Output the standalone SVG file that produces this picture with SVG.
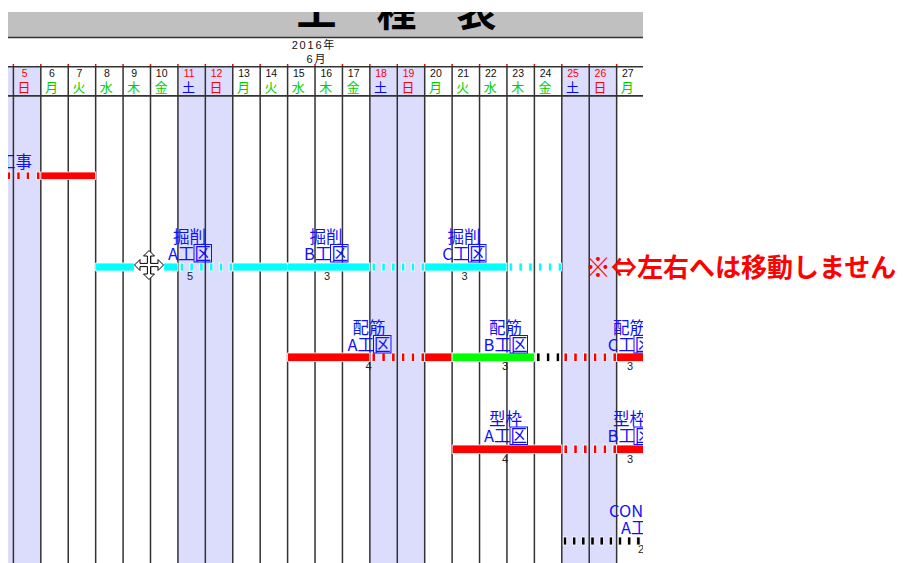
<svg xmlns="http://www.w3.org/2000/svg" width="903" height="563" viewBox="0 0 903 563">
<style>
.bar{stroke:#fff;stroke-width:0.8}
.r{fill:#ff0000}.c{fill:#00ffff}.g{fill:#00ff00}.k{fill:#000}
.lbl{font-family:"Noto Sans CJK JP","Liberation Sans",sans-serif;font-size:16.5px;fill:#1010ff;text-anchor:middle}
.box{fill:none;stroke:#1010ff;stroke-width:1}
.num{font-family:"Liberation Sans",sans-serif;font-size:11px;fill:#222;text-anchor:middle}
.vl{stroke:#333;stroke-width:1.5;fill:none}
.hl{stroke:#333;stroke-width:1.6}
.tick{stroke:#ff0000;stroke-width:1.5}
.dn{font-family:"Liberation Sans",sans-serif;font-size:10.5px;text-anchor:middle}
.wd{font-family:"Noto Sans CJK JP",sans-serif;font-size:13px;text-anchor:middle}
.blk{fill:#111}.red{fill:#ff0000}.grn{fill:#00d000}.blu{fill:#0000ff}
.shade{fill:#dcdcfc}
</style>
<defs>
<clipPath id="chart"><rect x="8" y="0" width="635" height="563"/></clipPath>
<clipPath id="titleclip"><rect x="8" y="12" width="635" height="25"/></clipPath>
</defs>
<rect width="903" height="563" fill="#fff"/>
<g id="chart-area" clip-path="url(#chart)">
  <g id="header">
    <rect x="8" y="12" width="635" height="25" fill="#c0c0c0"/>
    <text clip-path="url(#titleclip)" x="396.5" y="25.5" font-family="'Noto Sans CJK JP',sans-serif" font-size="40" font-weight="bold" text-anchor="middle" fill="#000">工　程　表</text>
    <line class="hl" x1="8" y1="37.5" x2="643" y2="37.5"/>
    <text x="291.7" y="48.5" font-family="'Liberation Sans','Noto Sans CJK JP',sans-serif" font-size="11" letter-spacing="1.8" fill="#111">2016年</text>
    <text x="306.5" y="62.5" font-family="'Liberation Sans','Noto Sans CJK JP',sans-serif" font-size="11" letter-spacing="1.8" fill="#111">6月</text>
  </g>
  <g id="weekend-shading">
    <rect class="shade" x="8" y="66.7" width="32.82" height="497"/>
    <rect class="shade" x="177.92" y="66.7" width="54.84" height="497"/>
    <rect class="shade" x="369.86" y="66.7" width="54.84" height="497"/>
    <rect class="shade" x="561.8" y="66.7" width="54.84" height="497"/>
  </g>
  <g id="grid">
    <line class="hl" x1="8" y1="66.7" x2="643" y2="66.7"/>
    <line class="hl" x1="8" y1="95.9" x2="643" y2="95.9"/>
    <path class="vl" d="M13.4 66.7V563M40.82 66.7V563M68.24 66.7V563M95.66 66.7V563M123.08 66.7V563M150.5 66.7V563M177.92 66.7V563M205.34 66.7V563M232.76 66.7V563M260.18 66.7V563M287.6 66.7V563M315.02 66.7V563M342.44 66.7V563M369.86 66.7V563M397.28 66.7V563M424.7 66.7V563M452.12 66.7V563M479.54 66.7V563M506.96 66.7V563M534.38 66.7V563M561.8 66.7V563M589.22 66.7V563M616.64 66.7V563"/>
    <path class="tick" d="M13.4 64V66M40.82 64V66M68.24 64V66M95.66 64V66M123.08 64V66M150.5 64V66M177.92 64V66M205.34 64V66M232.76 64V66M260.18 64V66M287.6 64V66M315.02 64V66M342.44 64V66M369.86 64V66M397.28 64V66M424.7 64V66M452.12 64V66M479.54 64V66M506.96 64V66M534.38 64V66M561.8 64V66M589.22 64V66M616.64 64V66"/>
  </g>
  <g id="day-numbers" class="dn">
    <text class="red" x="24.6" y="76.5">5</text>
    <text class="blk" x="52" y="76.5">6</text>
    <text class="blk" x="79.45" y="76.5">7</text>
    <text class="blk" x="106.87" y="76.5">8</text>
    <text class="blk" x="134.29" y="76.5">9</text>
    <text class="blk" x="161.71" y="76.5">10</text>
    <text class="red" x="189.13" y="76.5">11</text>
    <text class="red" x="216.55" y="76.5">12</text>
    <text class="blk" x="243.97" y="76.5">13</text>
    <text class="blk" x="271.39" y="76.5">14</text>
    <text class="blk" x="298.81" y="76.5">15</text>
    <text class="blk" x="326.23" y="76.5">16</text>
    <text class="blk" x="353.65" y="76.5">17</text>
    <text class="red" x="381.07" y="76.5">18</text>
    <text class="red" x="408.49" y="76.5">19</text>
    <text class="blk" x="435.91" y="76.5">20</text>
    <text class="blk" x="463.33" y="76.5">21</text>
    <text class="blk" x="490.75" y="76.5">22</text>
    <text class="blk" x="518.17" y="76.5">23</text>
    <text class="blk" x="545.59" y="76.5">24</text>
    <text class="red" x="573.01" y="76.5">25</text>
    <text class="red" x="600.43" y="76.5">26</text>
    <text class="blk" x="627.85" y="76.5">27</text>
  </g>
  <g id="weekdays" class="wd">
    <text class="red" x="24.1" y="92">日</text>
    <text class="grn" x="51.5" y="92">月</text>
    <text class="grn" x="78.95" y="92">火</text>
    <text class="grn" x="106.37" y="92">水</text>
    <text class="grn" x="133.79" y="92">木</text>
    <text class="grn" x="161.21" y="92">金</text>
    <text class="blu" x="188.63" y="92">土</text>
    <text class="red" x="216.05" y="92">日</text>
    <text class="grn" x="243.47" y="92">月</text>
    <text class="grn" x="270.89" y="92">火</text>
    <text class="grn" x="298.31" y="92">水</text>
    <text class="grn" x="325.73" y="92">木</text>
    <text class="grn" x="353.15" y="92">金</text>
    <text class="blu" x="380.57" y="92">土</text>
    <text class="red" x="407.99" y="92">日</text>
    <text class="grn" x="435.41" y="92">月</text>
    <text class="grn" x="462.83" y="92">火</text>
    <text class="grn" x="490.25" y="92">水</text>
    <text class="grn" x="517.67" y="92">木</text>
    <text class="grn" x="545.09" y="92">金</text>
    <text class="blu" x="572.51" y="92">土</text>
    <text class="red" x="599.93" y="92">日</text>
    <text class="grn" x="627.35" y="92">月</text>
  </g>

  <g id="task-koji">
    <text class="lbl" x="15.5" y="168">工事</text>
    <rect class="bar r" x="7.3" y="172" width="3.3" height="7.5"/>
    <rect class="bar r" x="16.8" y="172" width="3.3" height="7.5"/>
    <rect class="bar r" x="26.2" y="172" width="3.3" height="7.5"/>
    <rect class="bar r" x="36.6" y="172" width="3.3" height="7.5"/>
    <rect class="bar r" x="40.82" y="172" width="54.84" height="7.5"/>
  </g>

  <g id="task-kussaku-a">
    <text class="num" x="190" y="279.5">5</text>
    <rect class="bar c" x="95.66" y="263" width="38.6" height="8"/>
    <rect class="bar c" x="163.7" y="263" width="14.22" height="8"/>
    <rect class="bar c" x="180.1" y="263" width="3.4" height="8"/>
    <rect class="bar c" x="189.9" y="263" width="3.4" height="8"/>
    <rect class="bar c" x="199.7" y="263" width="3.4" height="8"/>
    <rect class="bar c" x="209.5" y="263" width="3.4" height="8"/>
    <rect class="bar c" x="219.3" y="263" width="3.4" height="8"/>
    <rect class="bar c" x="229.1" y="263" width="3.4" height="8"/>
    <rect class="bar c" x="232.76" y="263" width="54.84" height="8"/>
    <text class="lbl" x="189.5" y="242.5">掘削</text>
    <text class="lbl" x="189.5" y="259.5">A工区</text>
    <rect class="box" x="194" y="244.5" width="17.5" height="17.5"/>
  </g>
  <g id="task-kussaku-b">
    <text class="num" x="327" y="279.5">3</text>
    <rect class="bar c" x="287.6" y="263" width="82.26" height="8"/>
    <rect class="bar c" x="372.06" y="263" width="3.4" height="8"/>
    <rect class="bar c" x="381.86" y="263" width="3.4" height="8"/>
    <rect class="bar c" x="391.66" y="263" width="3.4" height="8"/>
    <rect class="bar c" x="401.46" y="263" width="3.4" height="8"/>
    <rect class="bar c" x="411.26" y="263" width="3.4" height="8"/>
    <rect class="bar c" x="421.06" y="263" width="3.4" height="8"/>
    <text class="lbl" x="326" y="242.5">掘削</text>
    <text class="lbl" x="326" y="259.5">B工区</text>
    <rect class="box" x="330.5" y="244.5" width="17.5" height="17.5"/>
  </g>
  <g id="task-kussaku-c">
    <text class="num" x="464.5" y="279.5">3</text>
    <rect class="bar c" x="424.7" y="263" width="82.26" height="8"/>
    <rect class="bar c" x="509.16" y="263" width="3.4" height="8"/>
    <rect class="bar c" x="518.96" y="263" width="3.4" height="8"/>
    <rect class="bar c" x="528.76" y="263" width="3.4" height="8"/>
    <rect class="bar c" x="538.56" y="263" width="3.4" height="8"/>
    <rect class="bar c" x="548.36" y="263" width="3.4" height="8"/>
    <rect class="bar c" x="558.16" y="263" width="3.4" height="8"/>
    <text class="lbl" x="464" y="242.5">掘削</text>
    <text class="lbl" x="464" y="259.5">C工区</text>
    <rect class="box" x="468.5" y="244.5" width="17.5" height="17.5"/>
  </g>

  <g id="task-haikin-a">
    <text class="num" x="368.5" y="370">4</text>
    <rect class="bar r" x="287.6" y="353" width="82.26" height="8.5"/>
    <rect class="bar r" x="372.06" y="353" width="3.4" height="8.5"/>
    <rect class="bar r" x="381.86" y="353" width="3.4" height="8.5"/>
    <rect class="bar r" x="391.66" y="353" width="3.4" height="8.5"/>
    <rect class="bar r" x="401.46" y="353" width="3.4" height="8.5"/>
    <rect class="bar r" x="411.26" y="353" width="3.4" height="8.5"/>
    <rect class="bar r" x="421.06" y="353" width="3.4" height="8.5"/>
    <rect class="bar r" x="424.7" y="353" width="27.42" height="8.5"/>
    <text class="lbl" x="369" y="333.5">配筋</text>
    <text class="lbl" x="369" y="350.5">A工区</text>
    <rect class="box" x="373.5" y="335.5" width="17.5" height="17.5"/>
  </g>
  <g id="task-haikin-b">
    <text class="num" x="505" y="370">3</text>
    <rect class="bar g" x="452.12" y="353" width="82.26" height="8.5"/>
    <rect class="bar k" x="536.6" y="353" width="3.4" height="8.5"/>
    <rect class="bar k" x="546.4" y="353" width="3.4" height="8.5"/>
    <rect class="bar k" x="556.2" y="353" width="3.4" height="8.5"/>
    <rect class="bar r" x="564" y="353" width="3.4" height="8.5"/>
    <rect class="bar r" x="573.8" y="353" width="3.4" height="8.5"/>
    <rect class="bar r" x="583.6" y="353" width="3.4" height="8.5"/>
    <rect class="bar r" x="593.4" y="353" width="3.4" height="8.5"/>
    <rect class="bar r" x="603.2" y="353" width="3.4" height="8.5"/>
    <rect class="bar r" x="613" y="353" width="3.4" height="8.5"/>
    <text class="lbl" x="505.5" y="333.5">配筋</text>
    <text class="lbl" x="505.5" y="350.5">B工区</text>
    <rect class="box" x="510" y="335.5" width="17.5" height="17.5"/>
  </g>
  <g id="task-haikin-c">
    <text class="num" x="630" y="370">3</text>
    <rect class="bar r" x="616.64" y="353" width="30" height="8.5"/>
    <text class="lbl" x="629.5" y="333.5">配筋</text>
    <text class="lbl" x="629.5" y="350.5">C工区</text>
    <rect class="box" x="634" y="335.5" width="17.5" height="17.5"/>
  </g>

  <g id="task-katawaku-a">
    <text class="num" x="505" y="462.5">4</text>
    <rect class="bar r" x="452.12" y="445" width="109.68" height="8.5"/>
    <rect class="bar r" x="564" y="445" width="3.4" height="8.5"/>
    <rect class="bar r" x="573.8" y="445" width="3.4" height="8.5"/>
    <rect class="bar r" x="583.6" y="445" width="3.4" height="8.5"/>
    <rect class="bar r" x="593.4" y="445" width="3.4" height="8.5"/>
    <rect class="bar r" x="603.2" y="445" width="3.4" height="8.5"/>
    <rect class="bar r" x="613" y="445" width="3.4" height="8.5"/>
    <text class="lbl" x="505.5" y="425">型枠</text>
    <text class="lbl" x="505.5" y="442">A工区</text>
    <rect class="box" x="510" y="427" width="17.5" height="17.5"/>
  </g>
  <g id="task-katawaku-b">
    <text class="num" x="630" y="462.5">3</text>
    <rect class="bar r" x="616.64" y="445" width="30" height="8.5"/>
    <text class="lbl" x="629.5" y="425">型枠</text>
    <text class="lbl" x="629.5" y="442">B工区</text>
    <rect class="box" x="634" y="427" width="17.5" height="17.5"/>
  </g>

  <g id="task-con-a">
    <text class="num" x="641" y="553">2</text>
    <rect class="bar k" x="563.3" y="537" width="3.4" height="8"/>
    <rect class="bar k" x="572.5" y="537" width="3.4" height="8"/>
    <rect class="bar k" x="581.6" y="537" width="3.4" height="8"/>
    <rect class="bar k" x="590.8" y="537" width="3.4" height="8"/>
    <rect class="bar k" x="600" y="537" width="3.4" height="8"/>
    <rect class="bar k" x="609.2" y="537" width="3.4" height="8"/>
    <rect class="bar k" x="618.3" y="537" width="3.4" height="8"/>
    <rect class="bar k" x="627.5" y="537" width="3.4" height="8"/>
    <rect class="bar k" x="636.7" y="537" width="3.4" height="8"/>
    <text class="lbl" x="642.5" y="516.5">CON打設</text>
    <text class="lbl" x="642.5" y="533.5">A工区</text>
  </g>

  <g id="move-cursor">
    <path d="M149 250.5L154.5 256H150.6V263.4H158V259.5L163.5 265L158 270.5V266.6H150.6V274H154.5L149 279.5L143.5 274H147.4V266.6H140V270.5L134.5 265L140 259.5V263.4H147.4V256H143.5Z" fill="#fff" stroke="#000" stroke-width="1"/>
  </g>
</g>
<g id="connectors"/>
<g id="note">
  <text x="585" y="277" font-family="'Noto Sans CJK JP',sans-serif" font-size="26" font-weight="bold" fill="#ff0000">※⇔左右へは移動しません</text>
</g>
</svg>
